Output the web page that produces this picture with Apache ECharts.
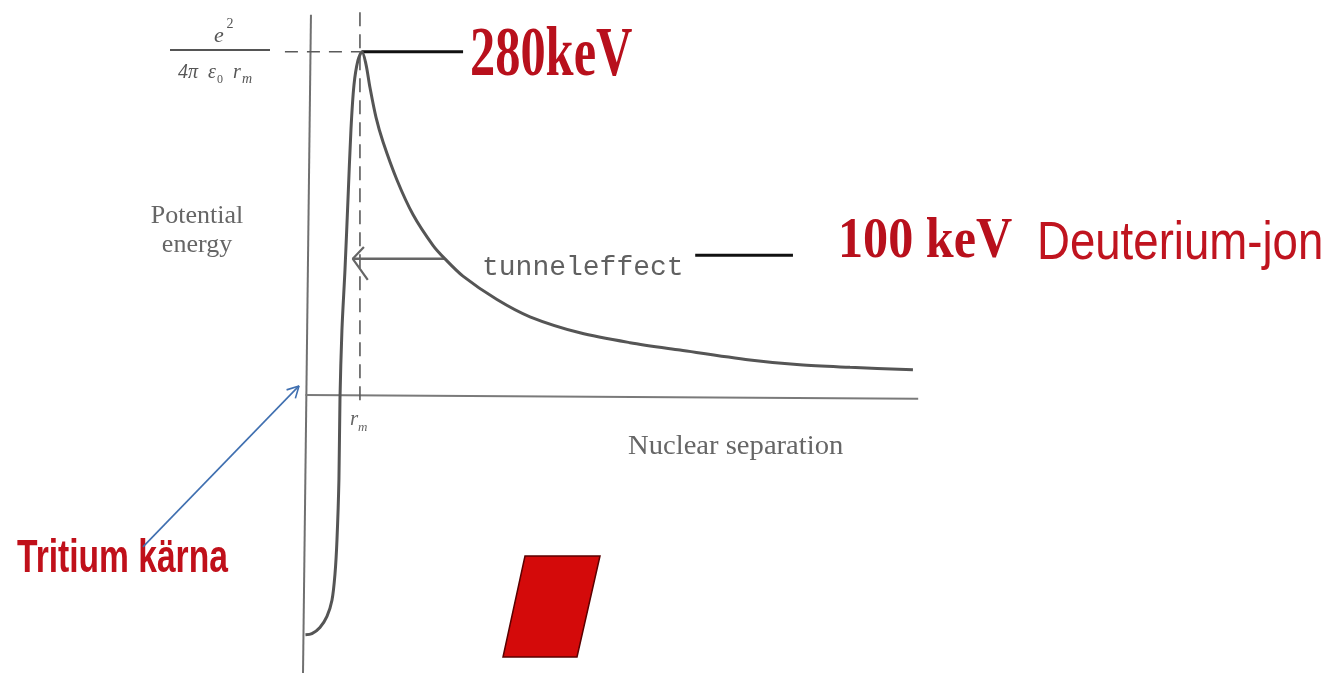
<!DOCTYPE html>
<html>
<head>
<meta charset="utf-8">
<script src="https://cdn.jsdelivr.net/npm/echarts@6/dist/echarts.min.js"></script>
<style>
html,body{margin:0;padding:0;background:#fff;}
#chart{width:1344px;height:673px;}
</style>
</head>
<body>
<div id="chart"></div>
<script>
// ---- data (x: nuclear separation, arbitrary units; y: potential energy, keV) ----
var curveX = [0, 1.06, 2.37, 3.52, 4.34, 4.83, 5.16, 5.48, 5.65, 5.97, 6.47, 6.96, 7.45, 7.94, 8.59, 9.25, 9.90, 10.56, 11.54, 12.69, 14.98, 17.60, 20.87, 22.84, 25.78, 31.35, 36.75, 44.93, 53.12, 61.30, 72.76, 80.94, 89.13, 99.44];
var curveY = [-193, -192, -187, -178, -165, -144, -116, -67, -2, 54, 103, 160, 217, 253, 273, 280, 270, 251, 227, 207, 176, 148, 123, 112, 98, 79, 65, 52, 44, 38, 30, 26, 24, 22];
var peakEnergy = 280;        // keV, Coulomb barrier
var ionEnergy = 112;         // level of the tunnelling arrow
var rm = 8.92;               // r_m position
var peakLabels = ['280keV'];
var ionLabels = ['100 keV', 'Deuterium-jon'];
var otherLabels = ['tunneleffect', 'Tritium kärna', 'Potential', 'energy', 'Nuclear separation'];

var curve = curveX.map(function (x, i) { return [x, curveY[i]]; });

var grey = '#5a5a5a';
var red = '#b8101c';

function lineSeries(data, color, width, type, z) {
  return {
    type: 'line', data: data, symbol: 'none', silent: true, z: z || 2,
    lineStyle: { color: color, width: width, type: type || 'solid' },
    animation: false
  };
}

var chart = echarts.init(document.getElementById('chart'), null, { renderer: 'canvas' });

var option = {
  backgroundColor: '#ffffff',
  animation: false,
  grid: { left: 0, right: 0, top: 0, bottom: 0 },
  xAxis: { type: 'value', min: -50, max: 170, show: false },
  yAxis: { type: 'value', min: -224, max: 322, show: false },
  series: [
    // axes
    lineSeries([[0.9, 310], [-0.4, -224]], '#707070', 2),
    lineSeries([[0, 1.6], [100.3, -1.6]], '#7a7a7a', 2),
    // dashed guides
    lineSeries([[rm, 312], [rm, -6]], grey, 1.6, [14, 8]),
    lineSeries([[-3.36, peakEnergy], [rm, peakEnergy]], grey, 1.6, [13, 9]),
    // potential curve
    (function () {
      var s = lineSeries(curve, '#555555', 3, 'solid', 5);
      s.smooth = 0.3;
      return s;
    })(),
    // leader to 280keV
    lineSeries([[9.25, peakEnergy], [25.8, peakEnergy]], '#111111', 3.2),
    // tunnelling arrow
    lineSeries([[22.8, ionEnergy], [7.75, ionEnergy]], '#666666', 2.5),
    lineSeries([[9.57, 121.7], [7.75, ionEnergy], [10.2, 94.9]], '#666666', 2.2),
    // leader to 100 keV
    lineSeries([[63.8, 115], [79.8, 115]], '#111111', 3),
    // blue arrow to tritium nucleus
    lineSeries([[-26.6, -121.7], [-1.06, 8.9]], '#3f6fb0', 1.6),
    lineSeries([[-1.65, -1.2], [-1.06, 8.9], [-3.09, 5.7]], '#3f6fb0', 1.6)
  ],
  graphic: [
    // fraction e^2 / (4π ε0 rm)
    { type: 'line', shape: { x1: 170, y1: 50, x2: 270, y2: 50 }, style: { stroke: '#555', lineWidth: 2 } },
    { type: 'text', x: 219, y: 36, style: { text: 'e', font: 'italic 22px "Liberation Serif"', fill: '#555', textAlign: 'center', textVerticalAlign: 'middle', align: 'center', verticalAlign: 'middle' } },
    { type: 'text', x: 230, y: 24, style: { text: '2', font: '14px "Liberation Serif"', fill: '#555', textAlign: 'center', textVerticalAlign: 'middle', align: 'center', verticalAlign: 'middle' } },
    { type: 'text', x: 178, y: 73, style: { text: '4π', font: 'italic 20px "Liberation Serif"', fill: '#555', textVerticalAlign: 'middle', verticalAlign: 'middle' } },
    { type: 'text', x: 208, y: 73, style: { text: 'ε', font: 'italic 20px "Liberation Serif"', fill: '#555', textVerticalAlign: 'middle', verticalAlign: 'middle' } },
    { type: 'text', x: 217, y: 80, style: { text: '0', font: '12px "Liberation Serif"', fill: '#555', textVerticalAlign: 'middle', verticalAlign: 'middle' } },
    { type: 'text', x: 233, y: 73, style: { text: 'r', font: 'italic 20px "Liberation Serif"', fill: '#555', textVerticalAlign: 'middle', verticalAlign: 'middle' } },
    { type: 'text', x: 242, y: 79, style: { text: 'm', font: 'italic 14px "Liberation Serif"', fill: '#555', textVerticalAlign: 'middle', verticalAlign: 'middle' } },
    // axis titles
    { type: 'text', x: 197, y: 216, style: { text: otherLabels[2], font: '26px "Liberation Serif"', fill: '#666', textAlign: 'center', textVerticalAlign: 'middle', align: 'center', verticalAlign: 'middle' } },
    { type: 'text', x: 197, y: 245, style: { text: otherLabels[3], font: '26px "Liberation Serif"', fill: '#666', textAlign: 'center', textVerticalAlign: 'middle', align: 'center', verticalAlign: 'middle' } },
    { type: 'text', x: 628, y: 447, scaleX: 1.06, style: { text: otherLabels[4], font: '27px "Liberation Serif"', fill: '#666', textVerticalAlign: 'middle', verticalAlign: 'middle' } },
    // r_m
    { type: 'text', x: 350, y: 419, style: { text: 'r', font: 'italic 21px "Liberation Serif"', fill: '#666', textVerticalAlign: 'middle', verticalAlign: 'middle' } },
    { type: 'text', x: 358, y: 428, style: { text: 'm', font: 'italic 13px "Liberation Serif"', fill: '#666', textVerticalAlign: 'middle', verticalAlign: 'middle' } },
    // big red labels
    { type: 'text', x: 470, y: 57, scaleX: 0.72, style: { text: peakLabels[0], font: 'bold 70px "Liberation Serif"', fill: red, textVerticalAlign: 'middle', verticalAlign: 'middle' } },
    { type: 'text', x: 838, y: 242, scaleX: 0.88, style: { text: ionLabels[0], font: 'bold 57px "Liberation Serif"', fill: red, textVerticalAlign: 'middle', verticalAlign: 'middle' } },
    { type: 'text', x: 1037, y: 244, scaleX: 0.86, style: { text: ionLabels[1], font: '53px "Liberation Sans"', fill: '#c0141f', textVerticalAlign: 'middle', verticalAlign: 'middle' } },
    { type: 'text', x: 17, y: 559, scaleX: 0.73, style: { text: otherLabels[1], font: 'bold 46px "Liberation Sans"', fill: '#c0101a', textVerticalAlign: 'middle', verticalAlign: 'middle' } },
    // tunnel effect label
    { type: 'text', x: 482, y: 268, style: { text: otherLabels[0], font: '28px "Liberation Mono"', fill: '#606060', textVerticalAlign: 'middle', verticalAlign: 'middle' } },
    // red parallelogram
    { type: 'polygon', shape: { points: [[525, 556], [600, 556], [577, 657], [503, 657]] }, style: { fill: '#d40a0a', stroke: '#5a0000', lineWidth: 1.5 } }
  ]
};
chart.setOption(option);
</script>
</body>
</html>
